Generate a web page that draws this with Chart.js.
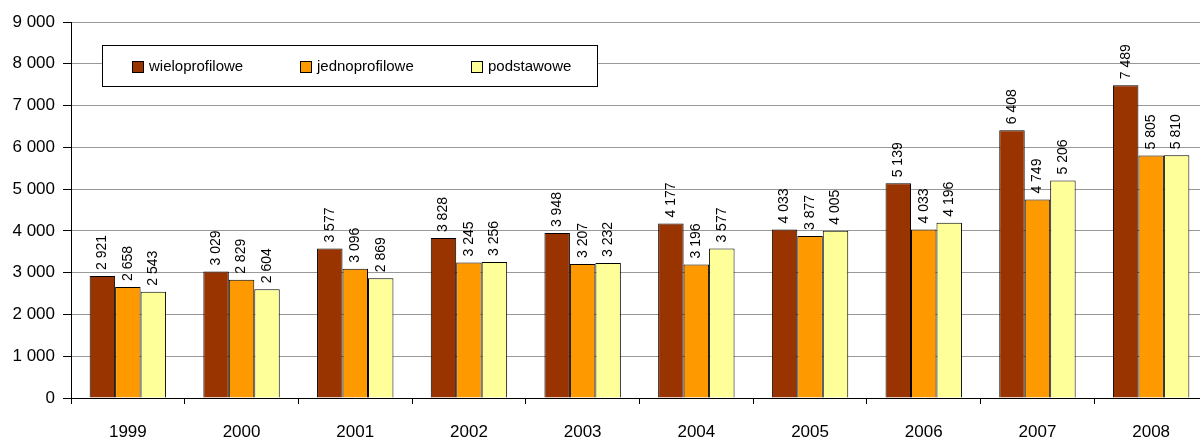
<!DOCTYPE html>
<html>
<head>
<meta charset="utf-8">
<script src="https://cdn.jsdelivr.net/npm/chart.js@4/dist/chart.umd.min.js"></script>
<style>
    html, body { margin: 0; padding: 0; background: #fff; overflow: hidden; }
    #wrap { width: 1200px; height: 441px; overflow: hidden; position: relative; }
    #box { width: 1210px; height: 441px; }
</style>
</head>
<body>
<div id="wrap"><div id="box"><canvas id="chart"></canvas></div></div>
<script>
const years = ['1999', '2000', '2001', '2002', '2003', '2004', '2005', '2006', '2007', '2008'];
const seriesNames = ['wieloprofilowe', 'jednoprofilowe', 'podstawowe'];
const wieloprofilowe = [2921, 3029, 3577, 3828, 3948, 4177, 4033, 5139, 6408, 7489];
const jednoprofilowe = [2658, 2829, 3096, 3245, 3207, 3196, 3877, 4033, 4749, 5805];
const podstawowe = [2543, 2604, 2869, 3256, 3232, 3577, 4005, 4196, 5206, 5810];
const yTicks = [0, 1000, 2000, 3000, 4000, 5000, 6000, 7000, 8000, 9000];

const colors = ['#993300', '#FF9900', '#FFFF99'];
const FONT = '"Liberation Sans", Arial, sans-serif';

function fmt(v) {
    return String(v).replace(/\B(?=(\d{3})+(?!\d))/g, ' ');
}

// Rotated value labels above each bar
const valueLabels = {
    id: 'valueLabels',
    afterDatasetsDraw(chart) {
        const ctx = chart.ctx;
        ctx.save();
        ctx.font = '14px ' + FONT;
        ctx.fillStyle = '#000';
        ctx.textAlign = 'left';
        ctx.textBaseline = 'middle';
        chart.data.datasets.forEach((ds, i) => {
            chart.getDatasetMeta(i).data.forEach((bar, j) => {
                ctx.save();
                ctx.translate(bar.x, bar.y - 6);
                ctx.rotate(-Math.PI / 2);
                ctx.fillText(fmt(ds.data[j]), 0, 0);
                ctx.restore();
            });
        });
        ctx.restore();
    }
};

// Boxed legend inside the plot area
const boxLegend = {
    id: 'boxLegend',
    afterDraw(chart) {
        const ctx = chart.ctx;
        ctx.save();
        ctx.fillStyle = '#fff';
        ctx.fillRect(102.5, 45.5, 495, 41);
        ctx.strokeStyle = '#000';
        ctx.lineWidth = 1;
        ctx.strokeRect(102.5, 45.5, 495, 41);
        const xs = [132, 300, 471];
        ctx.font = '15px ' + FONT;
        ctx.textBaseline = 'middle';
        ctx.textAlign = 'left';
        chart.data.datasets.forEach((ds, i) => {
            ctx.fillStyle = colors[i];
            ctx.fillRect(xs[i] + 0.5, 61.5, 11, 11);
            ctx.strokeStyle = '#000';
            ctx.strokeRect(xs[i] + 0.5, 61.5, 11, 11);
            ctx.fillStyle = '#000';
            ctx.fillText(ds.label, xs[i] + 17, 67);
        });
        ctx.restore();
    }
};

const ctx = document.getElementById('chart').getContext('2d');
const chart = new Chart(ctx, {
    type: 'bar',
    data: {
        labels: years,
        datasets: [wieloprofilowe, jednoprofilowe, podstawowe].map((d, i) => ({
            label: seriesNames[i],
            data: d,
            backgroundColor: colors[i],
            borderColor: '#000',
            borderWidth: 1,
            barPercentage: 1,
            categoryPercentage: 0.672
        }))
    },
    options: {
        responsive: true,
        maintainAspectRatio: false,
        animation: false,
        layout: { padding: { top: 22, right: 2, left: 0, bottom: 0 } },
        plugins: {
            legend: { display: false },
            tooltip: { enabled: false }
        },
        scales: {
            x: {
                grid: {
                    display: true,
                    drawOnChartArea: false,
                    offset: true,
                    tickLength: 6,
                    tickColor: '#000'
                },
                border: { color: '#000', width: 1 },
                ticks: {
                    color: '#000',
                    font: { family: FONT, size: 17 },
                    padding: 18,
                    maxRotation: 0
                },
                afterFit(scale) { scale.height = 43; }
            },
            y: {
                min: 0,
                max: 9000,
                afterBuildTicks(scale) {
                    scale.ticks = yTicks.map(v => ({ value: v }));
                },
                grid: {
                    color: '#999',
                    tickLength: 8,
                    tickColor: '#000'
                },
                border: { color: '#000', width: 1 },
                ticks: {
                    color: '#000',
                    font: { family: FONT, size: 17 },
                    padding: 8,
                    callback: v => fmt(v)
                },
                afterFit(scale) { scale.width = 71; }
            }
        }
    },
    plugins: [valueLabels, boxLegend]
});
</script>
</body>
</html>
